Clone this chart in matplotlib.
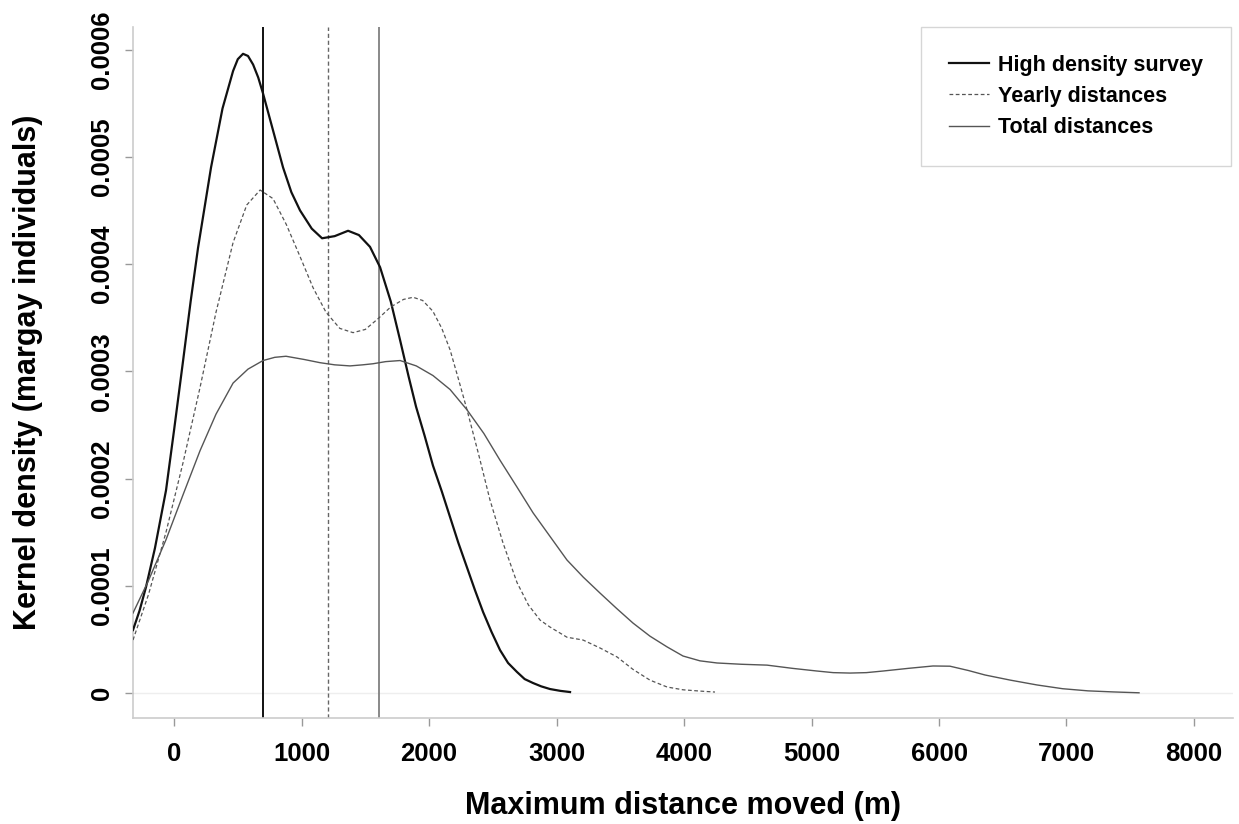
import matplotlib
matplotlib.use("Agg")
import matplotlib.pyplot as plt
from matplotlib import font_manager

names = {f.name for f in font_manager.fontManager.ttflist}
fam = ['Liberation Sans Narrow', 'Liberation Sans', 'DejaVu Sans']
fam = [f for f in fam if f in names] or ['DejaVu Sans']
plt.rcParams['font.family'] = fam
plt.rcParams['font.weight'] = 'bold'

# ---- data ----
high_x = [-322, -270, -220, -150, -63, 0, 71, 130, 188, 290, 380, 463, 500, 541, 580,
          620, 660, 698, 780, 855, 920, 988, 1080, 1161, 1260, 1365, 1450, 1537,
          1616, 1700, 1773, 1840, 1898, 1965, 2031, 2100, 2165, 2230, 2298, 2360,
          2424, 2490, 2557, 2620, 2690, 2750, 2816, 2880, 2949, 3030, 3106]
high_y = [0.0000587, 0.000077, 0.0000988, 0.000135, 0.000189, 0.000245, 0.000310,
          0.000365, 0.000415, 0.000490, 0.000545, 0.000580, 0.000591, 0.000596,
          0.000594, 0.000586, 0.000574, 0.000559, 0.000523, 0.000490, 0.000467,
          0.000450, 0.000433, 0.000424, 0.000426, 0.000431, 0.000427, 0.000416,
          0.000397, 0.000365, 0.000329, 0.000295, 0.000267, 0.000240, 0.000212,
          0.000188, 0.000164, 0.000140, 0.000117, 0.000096, 0.0000755, 0.000057,
          0.000040, 0.000028, 0.0000196, 0.000013, 0.0000093, 0.0000062, 0.0000037,
          0.0000020, 0.0000009]

year_x = [-322, -200, -63, 71, 204, 329, 463, 570, 675, 776, 880, 988, 1090, 1192,
          1300, 1404, 1500, 1600, 1700, 1800, 1875, 1950, 2030, 2100, 2165, 2230,
          2298, 2390, 2478, 2580, 2690, 2780, 2871, 2949, 3082, 3208, 3341, 3475,
          3600, 3733, 3867, 3992, 4125, 4243]
year_y = [0.0000494, 0.000092, 0.000150, 0.000215, 0.000285, 0.000355, 0.000420,
          0.000455, 0.000469, 0.000461, 0.000437, 0.000407, 0.000378, 0.000355,
          0.000340, 0.000336, 0.000339, 0.000349, 0.000360, 0.000367, 0.000369,
          0.000366, 0.000356, 0.000340, 0.000320, 0.000293, 0.000264, 0.000222,
          0.000180, 0.000140, 0.000103, 0.000082, 0.000068, 0.0000615, 0.000052,
          0.0000494, 0.000042, 0.0000336, 0.000022, 0.000012, 0.0000056, 0.0000030,
          0.0000018, 0.0000009]

total_x = [-322, -200, -63, 71, 204, 329, 463, 580, 698, 790, 878, 1020, 1145, 1260,
           1380, 1480, 1560, 1660, 1773, 1900, 2031, 2165, 2298, 2430, 2557, 2690,
           2816, 2949, 3082, 3210, 3341, 3470, 3600, 3733, 3867, 3992, 4125, 4259,
           4450, 4651, 4850, 5043, 5170, 5302, 5430, 5561, 5760, 5953, 6086, 6230,
           6361, 6560, 6769, 6970, 7169, 7370, 7569]
total_y = [0.0000746, 0.000105, 0.000143, 0.000185, 0.000226, 0.000260, 0.000289,
           0.000302, 0.000310, 0.000313, 0.000314, 0.000311, 0.000308, 0.000306,
           0.000305, 0.000306, 0.000307, 0.000309, 0.000310, 0.000305, 0.000296,
           0.000283, 0.000264, 0.000242, 0.000217, 0.000192, 0.000168, 0.000146,
           0.000124, 0.000108, 0.0000932, 0.000079, 0.0000652, 0.000053, 0.000043,
           0.0000345, 0.0000300, 0.0000280, 0.0000268, 0.0000260, 0.0000230,
           0.0000205, 0.0000190, 0.0000186, 0.0000190, 0.0000205, 0.0000230,
           0.0000252, 0.0000250, 0.0000210, 0.0000168, 0.0000120, 0.0000075,
           0.0000040, 0.0000020, 0.0000010, 0.0000002]

medians = [698, 1208, 1608]  # vertical reference lines
labels = ["High density survey", "Yearly distances", "Total distances"]
xticks = [0, 1000, 2000, 3000, 4000, 5000, 6000, 7000, 8000]
yticks = [0, 0.0001, 0.0002, 0.0003, 0.0004, 0.0005, 0.0006]
yticklabels = ["0", "0.0001", "0.0002", "0.0003", "0.0004", "0.0005", "0.0006"]

fig = plt.figure(figsize=(12.39, 8.24), dpi=100)
ax = fig.add_axes([133/1239, 1-718/824, 1100/1239, 691/824])
ax.set_xlim(-322, 8306)
ax.set_ylim(-0.0000233, 0.000621)

ax.axhline(0, color='#eeeeee', lw=1, zorder=1)
ax.axvline(medians[0], color='#111111', lw=1.4, zorder=2)
ax.axvline(medians[1], color='#666666', lw=1.0, ls=(0, (3, 2)), zorder=2)
ax.axvline(medians[2], color='#808080', lw=1.3, zorder=2)

l1, = ax.plot(high_x, high_y, color='#111111', lw=1.6, zorder=3)
l2, = ax.plot(year_x, year_y, color='#555555', lw=0.9, ls=(0, (3, 2)), zorder=3)
l3, = ax.plot(total_x, total_y, color='#555555', lw=1.0, zorder=3)

for s in ['top', 'right']:
    ax.spines[s].set_visible(False)
for s in ['left', 'bottom']:
    ax.spines[s].set_color('#cccccc')
    ax.spines[s].set_linewidth(1.2)

ax.set_xticks(xticks)
ax.set_xticklabels([str(v) for v in xticks], fontsize=18.5, fontweight='bold')
ax.set_yticks(yticks)
ax.set_yticklabels(yticklabels, fontsize=18.5, fontweight='bold', rotation=90, va='center')
ax.tick_params(axis='both', color='#999999', length=6, width=1)
ax.tick_params(axis='x', pad=11)
ax.tick_params(axis='y', pad=8)

ax.set_xlabel("Maximum distance moved (m)", fontsize=22, fontweight='bold')
ax.xaxis.set_label_coords(0.5, -0.106)
ax.set_ylabel("Kernel density (margay individuals)", fontsize=22, fontweight='bold')
ax.yaxis.set_label_coords(-0.082, 0.5)

leg = ax.legend([l1, l2, l3], labels, loc='upper right', bbox_to_anchor=(0.998, 1.0),
                fontsize=15.5, frameon=True, fancybox=False, handlelength=1.85,
                handletextpad=0.45, labelspacing=0.48, borderpad=1.28, borderaxespad=0)
leg.get_frame().set_edgecolor('#cccccc')
leg.get_frame().set_linewidth(1)
for t in leg.get_texts():
    t.set_fontweight('bold')

fig.savefig("out.png", dpi=100)
